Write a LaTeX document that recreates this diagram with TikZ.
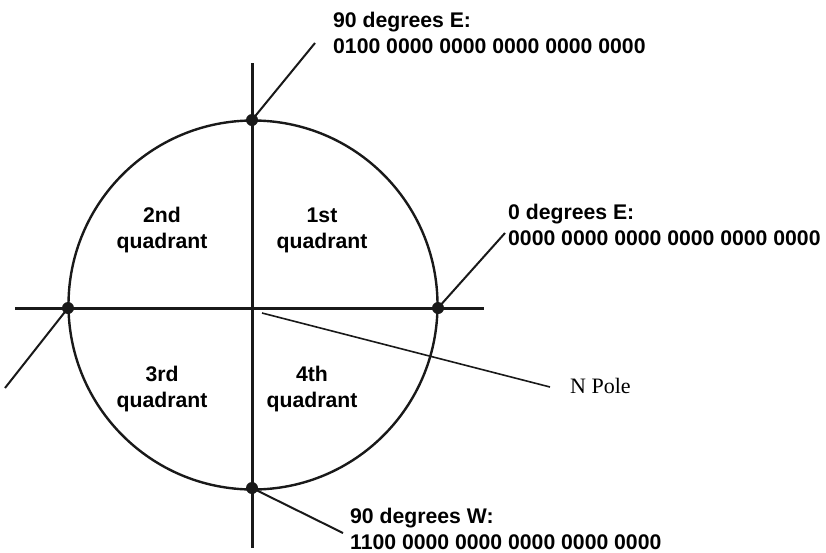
\documentclass[tikz,border=0pt]{standalone}
\usepackage{fontspec}
\setmainfont{Liberation Sans}
\newfontfamily\polefont{Liberation Serif}
\usetikzlibrary{positioning}

\begin{document}
\begin{tikzpicture}[x=1pt,y=-1pt,
 lbl/.style={font=\fontsize{21.2}{26}\selectfont\bfseries,inner sep=0pt,align=left},
 qlbl/.style={font=\fontsize{21.2}{26}\selectfont\bfseries,inner sep=0pt,align=center,anchor=base},
 dot/.style={circle,fill=black!90,inner sep=0pt,minimum size=12pt},
 axis/.style={line width=3pt,black!90},
 leader/.style={line width=2pt,black!90}]
\useasboundingbox (0,0) rectangle (826,552);
% circle and axes
\draw[line width=2.4pt,black!90] (253,305) circle (184.5);
\coordinate (ntop) at (252,63);
\coordinate (nbot) at (252,548);
\coordinate (wend) at (15,308);
\coordinate (eend) at (484,308);
\draw[axis] (ntop)--(nbot);
\draw[axis] (wend)--(eend);
\node[dot] (ptop) at (252,120) {};
\node[dot] (pbot) at (252,488) {};
\node[dot] (pleft) at (68,308) {};
\node[dot] (pright) at (438,308) {};
\coordinate (pole) at (262,313);
% quadrant names (base = last line)
\node[qlbl] (q1) at (322,248) {1st\\quadrant};
\node[qlbl] (q2) at (162,248) {2nd\\quadrant};
\node[qlbl] (q3) at (162,407) {3rd\\quadrant};
\node[qlbl] (q4) at (312,407) {4th\\quadrant};
% callouts
\node[lbl,anchor=base west] (e90) at (333,53) {90 degrees E:\\0100 0000 0000 0000 0000 0000};
\node[lbl,anchor=base west] (e0) at (508,245) {0 degrees E:\\0000 0000 0000 0000 0000 0000};
\node[lbl,anchor=base west] (w90) at (350,549) {90 degrees W:\\1100 0000 0000 0000 0000 0000};
\node[font=\polefont\fontsize{22}{26}\selectfont,inner sep=0pt,anchor=base west] (npole) at (570,393) {N Pole};
\coordinate (e90end) at (315,43);
\coordinate (e0end) at (505,233);
\coordinate (w90end) at (343,533);
\coordinate (leftend) at (5,388);
\coordinate (poleend) at (550,387);
\draw[leader] (ptop.center)--(e90end);
\draw[leader] (pright.center)--(e0end);
\draw[leader] (pbot.center)--(w90end);
\draw[leader] (pleft.center)--(leftend);
\draw[line width=1.6pt,black!90] (pole)--(poleend);
\end{tikzpicture}
\end{document}
